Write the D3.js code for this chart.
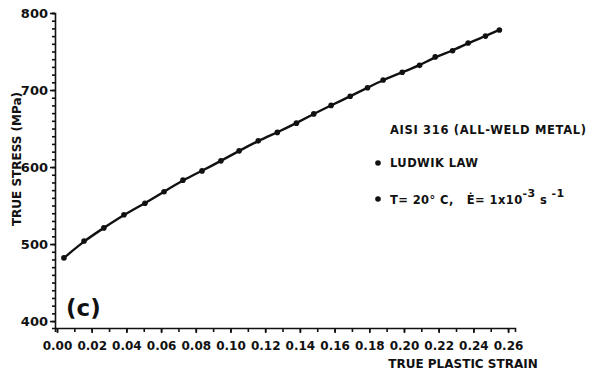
<!DOCTYPE html>
<html>
<head>
    <script src="https://d3js.org/d3.v7.min.js"></script>
    <style>
        body { margin: 0; background: #fff; }
        text { font-family: "DejaVu Sans", sans-serif; font-weight: bold; fill: #111; }
    </style>
</head>
<body>
<script type="text/javascript">
    const w = 592;
    const h = 376;

    // Ludwik law points
    const strain = [0.004, 0.0156, 0.027, 0.0386, 0.0507, 0.0617, 0.0726, 0.0836, 0.0945, 0.105,
        0.116, 0.127, 0.138, 0.148, 0.158, 0.169, 0.179, 0.188, 0.199, 0.209,
        0.218, 0.228, 0.237, 0.247, 0.255];
    const stress = [482, 504, 521, 538, 553, 568, 583, 595, 608, 621,
        634, 645, 657, 669, 680, 692, 703, 713, 723, 732,
        743, 751, 761, 770, 778];
    const xTicks = [0, 0.02, 0.04, 0.06, 0.08, 0.10, 0.12, 0.14, 0.16, 0.18, 0.20, 0.22, 0.24, 0.26];
    const yTicks = [400, 500, 600, 700, 800];

    const data = strain.map((s, i) => ({x: s, y: stress[i]}));

    const svg = d3.select('body').append('svg').attr('width', w).attr('height', h);

    const xScale = d3.scaleLinear().domain([-0.00115, 0.264]).range([55, 515]);
    const yScale = d3.scaleLinear().domain([391, 800]).range([328, 13]);

    // minor ticks first
    const xMinor = d3.axisBottom(xScale)
        .tickValues(d3.range(0, 27).map(i => i / 100))
        .tickSize(4).tickFormat('');
    svg.append('g').attr('transform', 'translate(0,328)').call(xMinor)
        .call(g => g.selectAll('path, line').attr('stroke', '#111').attr('stroke-width', 1.6));

    const xAxis = d3.axisBottom(xScale)
        .tickValues(xTicks)
        .tickSize(5).tickPadding(8)
        .tickFormat(d3.format('.2f'));
    svg.append('g').attr('transform', 'translate(0,328)').call(xAxis)
        .call(g => g.select('.domain').remove())
        .call(g => g.selectAll('line').attr('stroke', '#111').attr('stroke-width', 1.6))
        .call(g => g.selectAll('text').attr('font-size', '12px').attr('font-family', '"DejaVu Sans", sans-serif'));

    const yMinor = d3.axisLeft(yScale)
        .tickValues(d3.range(400, 801, 10))
        .tickSize(3).tickFormat('');
    svg.append('g').attr('transform', 'translate(55,0)').call(yMinor)
        .call(g => g.selectAll('path, line').attr('stroke', '#111').attr('stroke-width', 1.6));

    const yAxis = d3.axisLeft(yScale)
        .tickValues(yTicks)
        .tickSize(5).tickPadding(2);
    svg.append('g').attr('transform', 'translate(55,0)').call(yAxis)
        .call(g => g.select('.domain').remove())
        .call(g => g.selectAll('line').attr('stroke', '#111').attr('stroke-width', 1.6))
        .call(g => g.selectAll('text').attr('font-size', '13px').attr('font-family', '"DejaVu Sans", sans-serif'));

    // curve and points
    const line = d3.line()
        .x(d => xScale(d.x))
        .y(d => yScale(d.y))
        .curve(d3.curveBasis);

    svg.append('path')
        .datum(data)
        .attr('d', line)
        .attr('fill', 'none')
        .attr('stroke', '#111')
        .attr('stroke-width', 2.4);

    svg.selectAll('circle.pt')
        .data(data)
        .enter()
        .append('circle')
        .attr('class', 'pt')
        .attr('cx', d => xScale(d.x))
        .attr('cy', d => yScale(d.y))
        .attr('r', 2.8)
        .attr('fill', '#111');

    // axis titles
    svg.append('text')
        .attr('transform', 'translate(21,159) rotate(-90)')
        .attr('text-anchor', 'middle')
        .attr('font-size', '12px')
        .text('TRUE STRESS (MPa)');

    svg.append('text')
        .attr('x', 463)
        .attr('y', 368)
        .attr('text-anchor', 'middle')
        .attr('font-size', '12px')
        .text('TRUE PLASTIC STRAIN');

    // panel label
    svg.append('text')
        .attr('x', 66)
        .attr('y', 316)
        .attr('font-size', '23px')
        .text('(c)');

    // legend
    svg.append('text')
        .attr('x', 390)
        .attr('y', 134)
        .attr('font-size', '11.5px')
        .attr('textLength', 196)
        .attr('lengthAdjust', 'spacing')
        .text('AISI 316 (ALL-WELD METAL)');

    svg.append('circle').attr('cx', 378).attr('cy', 163).attr('r', 2.8).attr('fill', '#111');
    svg.append('text')
        .attr('x', 390)
        .attr('y', 167)
        .attr('font-size', '11.5px')
        .attr('textLength', 88)
        .attr('lengthAdjust', 'spacing')
        .text('LUDWIK LAW');

    svg.append('circle').attr('cx', 378).attr('cy', 199).attr('r', 2.8).attr('fill', '#111');
    const cond = svg.append('text')
        .attr('x', 390)
        .attr('y', 204)
        .attr('font-size', '11.5px')
        .attr('letter-spacing', '0.4px')
        .style('white-space', 'pre');
    cond.append('tspan').text('T= 20° C,   Ė= 1x10');
    cond.append('tspan').attr('dy', -7).attr('font-size', '11px').text('-3');
    cond.append('tspan').attr('dy', 7).text(' s');
    cond.append('tspan').attr('dy', -7).attr('font-size', '11px').text(' -1');
</script>
</body>
</html>
